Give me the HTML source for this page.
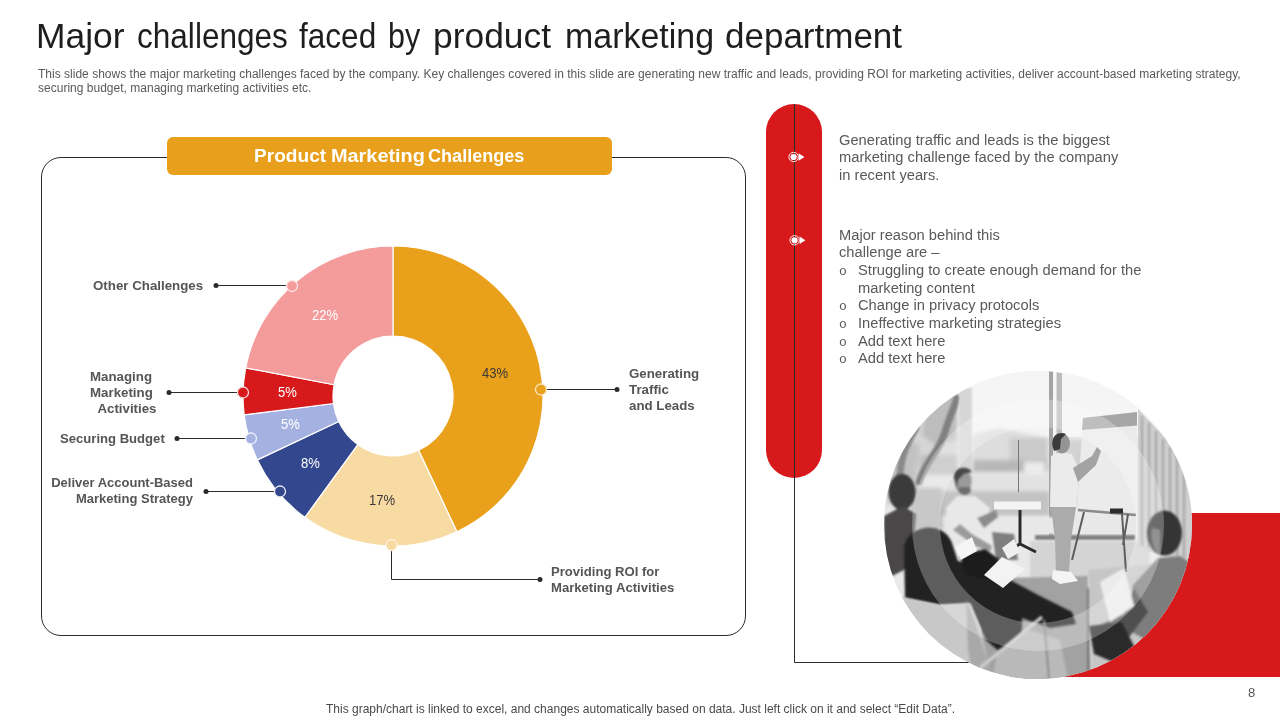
<!DOCTYPE html>
<html lang="en"><head><meta charset="utf-8"><title>Major challenges faced by product marketing department</title>
<style>
html,body{margin:0;padding:0;background:#fff;}
body{width:1280px;height:720px;position:relative;overflow:hidden;font-family:"Liberation Sans",sans-serif;}
.abs{position:absolute;white-space:nowrap;}
#title{left:38px;top:13px;font-size:35px;line-height:46px;color:#1e1e1e;width:900px;height:46px;}
#title span,#hdr span{position:absolute;top:0;transform-origin:0 50%;white-space:nowrap;}
#sub{left:38px;top:66.5px;font-size:12px;line-height:14px;letter-spacing:0.012px;color:#595959;white-space:normal;width:1230px;}
#hdr{left:167px;top:137px;width:445px;height:38px;background:#E8A01C;border-radius:6px;color:#fff;font-weight:bold;font-size:18.8px;line-height:38px;text-align:center;}
.lbl{font-weight:bold;font-size:13.3px;line-height:16px;color:#555;}
.pct{font-size:15px;line-height:16px;transform:translate(-53%,-54%) scaleX(0.87);}
.rt{left:839px;font-size:14.7px;line-height:17.6px;color:#595959;}
#foot{left:326px;top:701.8px;font-size:12px;line-height:14px;color:#4a4a4a;}
#pg{left:1248px;top:685.5px;font-size:13px;line-height:14px;color:#555;}
svg{position:absolute;left:0;top:0;}
</style></head><body>
<svg width="1280" height="720" viewBox="0 0 1280 720">
<defs>
<clipPath id="pc"><circle cx="1038" cy="525" r="154"/></clipPath>
<filter id="b2" x="-20%" y="-20%" width="140%" height="140%"><feGaussianBlur stdDeviation="2"/></filter>
<filter id="b1" x="-20%" y="-20%" width="140%" height="140%"><feGaussianBlur stdDeviation="1"/></filter>
<filter id="b4" x="-20%" y="-20%" width="140%" height="140%"><feGaussianBlur stdDeviation="4"/></filter>
</defs>
<!-- panel -->
<rect x="41.5" y="157.5" width="704" height="478" rx="19.5" ry="19.5" fill="none" stroke="#2b2b2b" stroke-width="1"/>
<!-- red pill -->
<rect x="766" y="104" width="56" height="374" rx="28" ry="28" fill="#D7191C"/>
<path d="M794.5 104V662.5H1000" fill="none" stroke="#2b2b2b" stroke-width="1"/>
<!-- red block -->
<rect x="1040" y="513" width="240" height="164" fill="#D7191C"/>
<!-- photo -->
<g clip-path="url(#pc)">
<rect x="880" y="365" width="320" height="320" fill="#e9e9e9"/>
<!-- sky / window bright -->
<rect x="880" y="365" width="320" height="72" fill="#f5f5f5"/>
<!-- outside scene through windows -->
<g filter="url(#b2)">
<path d="M884 486L894 444L912 414L938 394L958 388L958 488L884 506Z" fill="#d6d6d6"/>
<path d="M925 415L945 396L957 392L957 440L935 445L922 435Z" fill="#bdbdbd"/>
<path d="M892 470L905 440L920 445L915 480L892 490Z" fill="#c2c2c2"/>
<path d="M973 434L1000 428L1048 438V470H973Z" fill="#dddddd"/>
<path d="M1010 438H1048V460H1010Z" fill="#cbcbcb"/>
<path d="M1062 440H1085V505H1062Z" fill="#d2d2d2"/>
<path d="M920 455H958V476H920Z" fill="#bebebe"/>
<path d="M973 460H1048V472H973Z" fill="#b7b7b7"/>
<path d="M920 475H1050V490H920Z" fill="#e2e2e2"/>
<path d="M920 491H1050V516H920Z" fill="#c3c3c3"/>
<path d="M1024 462H1045V474H1024Z" fill="#ececec"/>
</g>
<path d="M1018.500 440V492" stroke="#777" stroke-width="1"/>
<!-- tree trunks -->
<g filter="url(#b1)" fill="none" stroke="#808080" stroke-linecap="round">
<path d="M919 482C925 462 939 452 945 432C949 418 954 408 957 398" stroke-width="7"/>
<path d="M900 476C901 454 908 442 916 428" stroke-width="7" stroke="#8a8a8a"/>
</g>
<!-- window frames -->
<rect x="959" y="388" width="13" height="96" fill="#d6d6d6" filter="url(#b1)"/>
<rect x="1049" y="371" width="4" height="165" fill="#a3a3a3"/>
<rect x="1056.500" y="371" width="5.500" height="165" fill="#bdbdbd"/>
<!-- sill + floor -->
<rect x="936" y="517" width="209" height="17" fill="#e8e8e8" filter="url(#b1)"/>
<path d="M912 488H942V530H912Z" fill="#b4b4b4" filter="url(#b2)"/>
<rect x="1035" y="535" width="100" height="5" fill="#808080" filter="url(#b1)"/>
<rect x="1030" y="541" width="120" height="37" fill="#d4d4d4" filter="url(#b1)"/>
<!-- rug -->
<path d="M1000 578L1088 576L1092 690L960 690Z" fill="#a2a2a2" filter="url(#b1)"/>
<path d="M1088 570L1200 560L1200 690L1092 690Z" fill="#c6c6c6" filter="url(#b1)"/>
<!-- curtains -->
<path d="M1138 409L1196 470L1196 566L1138 548Z" fill="#cfcfcf"/>
<g stroke="#a6a6a6" stroke-width="2.200" filter="url(#b1)"><path d="M1142 416V546M1149 423V548M1156 431V550M1163 439V552M1170 447V554M1177 455V556M1184 463V558"/></g>
<!-- flipchart -->
<path d="M1083 418L1137 412L1137 512L1077 508Z" fill="#ebebeb"/>
<path d="M1083 418L1137 412L1137 425.500L1082 430Z" fill="#a6a6a6"/>
<path d="M1078 510L1136 515" stroke="#8a8a8a" stroke-width="2.500"/>
<path d="M1084 512L1072 560M1122 514L1126 572M1128 514L1123 545" stroke="#5e5e5e" stroke-width="2" fill="none"/>
<rect x="1110" y="508.500" width="13" height="5" fill="#2c2c2c"/>
<!-- table -->
<path d="M994 501.500H1041V509.500H994Z" fill="#f4f4f4"/>
<path d="M1020 510V545M1008 551L1020 544L1036 552" stroke="#2a2a2a" stroke-width="3" fill="none"/>
<!-- standing man -->
<path d="M1051 456L1060 452L1072 454L1079 470L1078 490L1076 507L1050 507Z" fill="#ebebeb"/>
<path d="M1073 468L1092 456L1097 447L1101 451L1096 465L1078 482Z" fill="#a3a3a3"/>
<ellipse cx="1062" cy="443.500" rx="8" ry="10" fill="#949494"/>
<path d="M1052.500 446C1051 434 1060 431 1066 434L1061 439L1060 449L1054 451Z" fill="#3a3a3a"/>
<path d="M1051 507H1076L1071 540L1069 572L1056 572L1055 540Z" fill="#ababab"/>
<path d="M1053 570L1071 572L1078 581L1060 584L1052 579Z" fill="#f4f4f4"/>
<!-- seated man's jeans / chair behind -->
<path d="M992 532L1014 534L1018 560L996 560Z" fill="#7e7e7e" filter="url(#b1)"/>
<!-- left man (checkered shirt) -->
<g filter="url(#b1)">
<ellipse cx="902" cy="492" rx="13.500" ry="18" fill="#3a3a3a"/>
<path d="M884 516L903 506L916 514L914 540L908 568L884 580Z" fill="#494646"/>
</g>
<!-- sitting man white tshirt -->
<g filter="url(#b1)">
<path d="M946 508L957 496L975 496L990 508L986 524L977 522L976 545L955 548L947 530Z" fill="#e8e8e8"/>
<ellipse cx="963" cy="481.500" rx="8.500" ry="12" fill="#9a9a9a"/>
<path d="M954 478C953 466 968 465 972 472L964 474L958 480L957 488Z" fill="#474747"/>
<path d="M958 490C960 496 968 497 971 491L970 487L959 487Z" fill="#6e6e6e"/>
<path d="M977 518L996 510L998 517L984 528Z" fill="#8c8c8c"/>
<path d="M953 530L975 546L990 552L992 546L972 534L960 524Z" fill="#9b9b9b"/>
</g>
<!-- woman foreground dark -->
<g filter="url(#b1)">
<path d="M904 548C906 524 946 518 953 546L958 561L985 567L1010 580L1040 596L1072 612L1076 624L1050 628L1022 618L1022 640L1002 654L986 640L970 604L940 605L905 598Z" fill="#232323"/>
<path d="M960 555L985 549L1000 560L990 580L965 575Z" fill="#1e1e1e"/>
</g>
<!-- papers -->
<path d="M955 547L972 537L977 551L961 560Z" fill="#f5f5f5"/>
<path d="M1002 548L1014 539L1020 552L1008 559Z" fill="#efefef"/>
<path d="M984 575L1002 557L1025 569L1003 588Z" fill="#f3f3f3"/>
<!-- chair bottom-left -->
<g filter="url(#b1)">
<path d="M890 594L905 598L940 605L970 603L980 628L995 690L895 690Z" fill="#c8c8c8"/>
<path d="M966 600L975 622L990 668L998 690L975 690L968 650Z" fill="#a9a9a9"/>
<path d="M998 650L1030 630L1060 640L1070 690L990 690Z" fill="#b9b9b9"/>
<path d="M980 668L1042 617" stroke="#cdcdcd" stroke-width="3.500"/>
<path d="M1044 620L1050 690" stroke="#8a8a8a" stroke-width="2"/>
</g>
<!-- right man -->
<g filter="url(#b1)">
<path d="M1133 585L1158 558L1180 556L1196 566L1196 640L1150 642L1128 630Z" fill="#7d7d7d"/>
<path d="M1134 588L1148 612L1130 636L1100 640L1098 626L1124 614Z" fill="#4f4f4f"/>
<path d="M1089 626L1122 622L1136 650L1118 664L1094 654Z" fill="#2b2b2b"/>
<ellipse cx="1164.500" cy="533" rx="17.500" ry="22.500" fill="#363636"/>
<path d="M1152 528C1150 540 1154 550 1160 556L1160 530Z" fill="#6a6a6a"/>
<path d="M1100 582L1124 568L1134 606L1110 622Z" fill="#ececec"/>
<path d="M1088 588V680" stroke="#777" stroke-width="2"/>
</g>
<!-- translucent ring -->
<circle cx="1038" cy="525" r="112" fill="none" stroke="#fff" stroke-opacity="0.27" stroke-width="28"/>

</g>
<!-- markers on pill -->
<g fill="#fff">
<circle cx="793.6" cy="157" r="4.700" fill="none" stroke="#fff" stroke-width="0.9"/><circle cx="793.6" cy="157" r="3.100"/><path d="M798.6 153.2L804.4 157L798.6 160.8Z"/>
<circle cx="794.6" cy="240.3" r="4.700" fill="none" stroke="#fff" stroke-width="0.9"/><circle cx="794.6" cy="240.3" r="3.100"/><path d="M799.6 236.5L805.4 240.3L799.6 244.10000000000002Z"/>
</g>
<!-- donut -->
<path d="M393.00 246.00A150 150 0 0 1 456.87 531.72L418.55 450.29A60 60 0 0 0 393.00 336.00Z" fill="#E9A01B" stroke="#fff" stroke-width="1.2" stroke-linejoin="round"/>
<path d="M456.87 531.72A150 150 0 0 1 304.83 517.35L357.73 444.54A60 60 0 0 0 418.55 450.29Z" fill="#F8DBA3" stroke="#fff" stroke-width="1.2" stroke-linejoin="round"/>
<path d="M304.83 517.35A150 150 0 0 1 257.28 459.87L338.71 421.55A60 60 0 0 0 357.73 444.54Z" fill="#32478E" stroke="#fff" stroke-width="1.2" stroke-linejoin="round"/>
<path d="M257.28 459.87A150 150 0 0 1 244.18 414.80L333.47 403.52A60 60 0 0 0 338.71 421.55Z" fill="#A5B2E1" stroke="#fff" stroke-width="1.2" stroke-linejoin="round"/>
<path d="M244.18 414.80A150 150 0 0 1 245.66 367.89L334.06 384.76A60 60 0 0 0 333.47 403.52Z" fill="#D7191C" stroke="#fff" stroke-width="1.2" stroke-linejoin="round"/>
<path d="M245.66 367.89A150 150 0 0 1 393.00 246.00L393.00 336.00A60 60 0 0 0 334.06 384.76Z" fill="#F49C9C" stroke="#fff" stroke-width="1.2" stroke-linejoin="round"/>
<!-- leaders -->
<g fill="none" stroke="#2b2b2b" stroke-width="1">
<path d="M541 389.5H617"/>
<path d="M391.5 545V579.5H540"/>
<path d="M206 491.500H280"/>
<path d="M177 438.500H251"/>
<path d="M169 392.500H243"/>
<path d="M216 285.500H292"/>
</g>
<g fill="#2b2b2b">
<circle cx="617" cy="389.500" r="2.5"/><circle cx="540" cy="579.500" r="2.5"/><circle cx="206" cy="491.500" r="2.5"/><circle cx="177" cy="438.500" r="2.5"/><circle cx="169" cy="392.500" r="2.5"/><circle cx="216" cy="285.500" r="2.5"/>
</g>
<g stroke="#fbe9d0" stroke-width="1.3">
<circle cx="541" cy="389.500" r="5.5" fill="#E9A01B" stroke="#fbe5c0"/>
<circle cx="391.500" cy="545" r="5.5" fill="#F8DBA3" stroke="#fdf1dc"/>
<circle cx="280" cy="491.500" r="5.5" fill="#32478E" stroke="#e8ebf5"/>
<circle cx="251" cy="438.500" r="5.5" fill="#A5B2E1" stroke="#eef0fa"/>
<circle cx="243" cy="392.500" r="5.5" fill="#D7191C" stroke="#f7d6d6"/>
<circle cx="292" cy="286" r="5.5" fill="#F49C9C" stroke="#fde3e3"/>
</g>
</svg>
<div id="title" class="abs"><span style="left:-2.29px;transform:scaleX(1.0119)">Major</span> <span style="left:98.60px;transform:scaleX(0.9015)">challenges</span> <span style="left:260.75px;transform:scaleX(0.9018)">faced</span> <span style="left:349.76px;transform:scaleX(0.8714)">by</span> <span style="left:394.98px;transform:scaleX(1.0109)">product</span> <span style="left:527.06px;transform:scaleX(0.97)">marketing</span> <span style="left:687.00px;transform:scaleX(1.0)">department</span></div>
<div id="sub" class="abs">This slide shows the major marketing challenges faced by the company. Key challenges covered in this slide are generating new traffic and leads, providing ROI for marketing activities, deliver account-based marketing strategy, securing budget, managing marketing activities etc.</div>
<div id="hdr" class="abs"><span style="left:87.23px;transform:scaleX(1.018)">Product</span> <span style="left:164.18px;transform:scaleX(1.058)">Marketing</span> <span style="left:261.03px;transform:scaleX(0.962)">Challenges</span></div>

<div class="abs pct" style="left:496px;top:374px;color:#3a3a3a">43%</div>
<div class="abs pct" style="left:383px;top:501px;color:#3a3a3a">17%</div>
<div class="abs pct" style="left:311px;top:464px;color:#fff">8%</div>
<div class="abs pct" style="left:291px;top:425px;color:#fff">5%</div>
<div class="abs pct" style="left:288px;top:393px;color:#fff">5%</div>
<div class="abs pct" style="left:326px;top:316px;color:#fff">22%</div>

<div class="abs lbl" style="left:93px;top:277.7px">Other Challenges</div>
<div class="abs lbl" style="left:90px;top:368.7px">Managing<br>Marketing<br>&nbsp;&nbsp;Activities</div>
<div class="abs lbl" style="left:60px;top:430.5px;font-size:13.1px">Securing Budget</div>
<div class="abs lbl" style="left:38px;top:475px;width:155px;text-align:right;font-size:13px">Deliver Account-Based<br>Marketing Strategy</div>
<div class="abs lbl" style="left:629px;top:365.7px">Generating<br>Traffic<br>and Leads</div>
<div class="abs lbl" style="left:551px;top:564px;font-size:13.1px">Providing ROI for<br>Marketing Activities</div>

<div class="abs rt" style="top:131.7px">Generating traffic and leads is the biggest<br>marketing challenge faced by the company<br>in recent years.</div>
<div class="abs rt" style="top:226.8px;line-height:17.65px">Major reason behind this<br>challenge are –<br><span class="bu">o</span>Struggling to create enough demand for the<br><span class="bu">&nbsp;</span>marketing content<br><span class="bu">o</span>Change in privacy protocols<br><span class="bu">o</span>Ineffective marketing strategies<br><span class="bu">o</span>Add text here<br><span class="bu">o</span>Add text here</div>
<style>.bu{display:inline-block;width:19px;font-size:13px;line-height:10px;vertical-align:baseline;font-family:"Liberation Mono",monospace;}</style>

<div id="pg" class="abs">8</div>
<div id="foot" class="abs">This graph/chart is linked to excel, and changes automatically based on data. Just left click on it and select “Edit Data”.</div>
</body></html>
